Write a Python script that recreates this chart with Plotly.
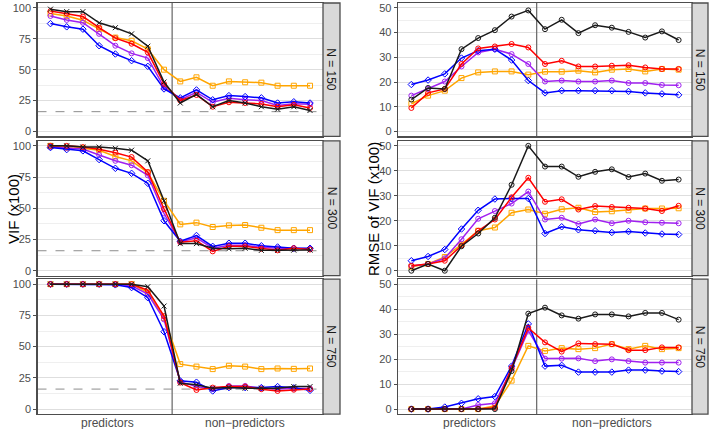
import plotly.graph_objects as go

W, H = 709, 429

positions = list(range(1, 18))  # 8 predictors + 9 non-predictors
separator_x = 8.5
group_labels = ["predictors", "non\u2212predictors"]
group_centers = [4.5, 13.0]
sample_sizes = ["N = 150", "N = 300", "N = 750"]
reference_vif = 16

# ---- VIF (x100), left column ----
vif150_black  = [99, 97, 97, 88, 84, 79, 69, 40, 23, 30, 20, 25, 23, 20, 18, 20, 17]
vif150_red    = [97.5, 95.5, 93, 84, 75.5, 71, 64, 38.5, 25, 29.5, 20, 23.6, 23, 22.3, 20, 21.5, 19]
vif150_orange = [95.5, 93.5, 90, 83, 76, 73.4, 66.6, 50, 40.5, 43.8, 37, 40.5, 39.8, 39.5, 37, 37, 37]
vif150_purple = [93.5, 90.3, 88, 79, 69.4, 63.2, 59.4, 35.7, 25.8, 31.7, 23.6, 26.9, 25.6, 25, 21, 22.5, 22]
vif150_blue   = [87.3, 84.7, 82.8, 69.4, 62.7, 57.3, 52.7, 34.4, 27.2, 33.6, 25.6, 29, 28.2, 27.2, 23, 24, 23]

vif300_black  = [100, 100, 99, 99, 98, 96.5, 88, 56, 21.7, 21.7, 18, 17.6, 18, 16.3, 16.3, 16.5, 16.5]
vif300_red    = [100, 100, 99, 97.3, 94.5, 91, 79, 49.4, 22.8, 24, 15.5, 19.5, 19.5, 17.6, 16.3, 18, 17]
vif300_orange = [100, 98.5, 98, 96.5, 91.5, 88, 78.6, 56, 37.1, 38.5, 35, 36.3, 36.6, 34.4, 32.5, 32.5, 32.5]
vif300_purple = [99, 98.4, 97.5, 92.7, 88, 84.5, 76.4, 45.8, 23, 26.3, 18, 20.4, 20.4, 18.7, 18, 18, 17.5]
vif300_blue   = [98.6, 97, 96, 89, 82, 78, 70, 40, 23.6, 28.2, 19.5, 22, 22, 20, 19, 18, 18]

vif750_black  = [100, 100, 100, 100, 100, 100, 98, 82.5, 20.7, 19.4, 16.7, 17.2, 16.7, 16.7, 16.7, 18, 18]
vif750_red    = [100, 100, 100, 100, 100, 100, 95.2, 74.4, 21.2, 15.3, 17.2, 18, 18, 15.9, 14.5, 15.5, 16]
vif750_orange = [100, 100, 100, 100, 100, 100, 93.3, 73, 36, 34, 32, 34.7, 34, 32, 32.5, 32.2, 32.5]
vif750_purple = [100, 100, 100, 100, 100, 98.7, 92, 71.8, 22, 18, 16, 18.5, 18.5, 16.7, 16, 16.5, 16.5]
vif750_blue   = [100, 100, 100, 100, 99.5, 97.3, 89.2, 61.9, 22.6, 21.5, 14.5, 17.2, 17.2, 17.2, 18, 17, 15]

# ---- RMSE of VIF (x100), right column ----
rmse150_black  = [12.9, 17.6, 17.2, 33.3, 37.8, 41, 46.5, 49, 41.4, 45.2, 39.8, 43, 42, 40.3, 38, 40.5, 37]
rmse150_red    = [9.5, 15.6, 17.2, 27.3, 33.6, 34.4, 35.4, 34, 27.3, 28.6, 26.3, 26.3, 26.6, 26.8, 25.9, 25.3, 25.3]
rmse150_orange = [11.2, 14.5, 16.5, 21.6, 23.9, 24.3, 24.3, 23, 24.2, 24.2, 24.6, 23.9, 25, 25.3, 24.3, 25.3, 25]
rmse150_purple = [14.5, 17.2, 20.2, 26.3, 32, 33.3, 31.3, 27.3, 20.2, 20.6, 20.2, 20.2, 20.6, 19.6, 19.6, 18.8, 18.7]
rmse150_blue   = [19, 20.8, 23.3, 29.7, 32.7, 33.3, 28.9, 20.6, 15.6, 16.5, 16.5, 16.5, 16.5, 16.2, 15.6, 15.2, 14.8]

rmse300_black  = [0, 2.7, 0, 9.8, 14.9, 21.2, 34.4, 50, 41.7, 41.7, 37.6, 39.6, 40.6, 37.5, 38.9, 36, 36.5]
rmse300_red    = [2, 2.7, 4, 10.1, 16, 20.5, 29.4, 37.2, 27.6, 28.6, 24.5, 25.9, 25.5, 25.2, 24.9, 23.9, 26]
rmse300_orange = [1.6, 2.7, 5.5, 10.5, 16, 17.3, 23.2, 24.5, 22.8, 24.6, 25.2, 23.5, 23.8, 24.2, 24.9, 24.9, 25]
rmse300_purple = [1.9, 2.7, 5, 12.6, 20.8, 23.9, 26.9, 31.7, 20.5, 21.2, 18.7, 20.5, 19, 20, 19.4, 19.2, 19]
rmse300_blue   = [4, 5.7, 8.5, 16.7, 24.2, 28.7, 28.9, 28.9, 14.9, 17.6, 16.4, 16, 15.3, 15.7, 15.1, 14.7, 14.5]

rmse750_black  = [0, 0, 0, 0, 0, 0, 15.2, 38.2, 40.6, 37.5, 36.2, 37.9, 37.9, 37.1, 38.5, 38.5, 35.8]
rmse750_red    = [0, 0, 0, 0, 0, 0.5, 16.5, 32.5, 26.7, 23, 26.3, 26, 26, 23.6, 23.6, 24.7, 24.7]
rmse750_orange = [0, 0, 0, 0, 0, 1.2, 11.4, 25.3, 23.3, 24.4, 24, 24.4, 26, 24, 25.3, 24, 24.4]
rmse750_purple = [0, 0, 0, 0, 1.6, 2.3, 16.1, 31.4, 20.2, 20.2, 20.3, 19.2, 19.9, 19.2, 18.6, 18.6, 18.6]
rmse750_blue   = [0, 0, 0.8, 2.3, 4.1, 5, 17.2, 34.1, 17.2, 17.5, 14.8, 14.8, 14.8, 15.6, 15.6, 15.2, 15]

series_colors = {"orange": "#FFA500", "purple": "#A020F0", "blue": "#0000FF",
                 "red": "#FF0000", "black": "#1A1A1A"}

left_panels = [
    {"orange": vif150_orange, "purple": vif150_purple, "blue": vif150_blue, "red": vif150_red, "black": vif150_black},
    {"orange": vif300_orange, "purple": vif300_purple, "blue": vif300_blue, "red": vif300_red, "black": vif300_black},
    {"orange": vif750_orange, "purple": vif750_purple, "blue": vif750_blue, "red": vif750_red, "black": vif750_black},
]
right_panels = [
    {"orange": rmse150_orange, "purple": rmse150_purple, "blue": rmse150_blue, "red": rmse150_red, "black": rmse150_black},
    {"orange": rmse300_orange, "purple": rmse300_purple, "blue": rmse300_blue, "red": rmse300_red, "black": rmse300_black},
    {"orange": rmse750_orange, "purple": rmse750_purple, "blue": rmse750_blue, "red": rmse750_red, "black": rmse750_black},
]

# ---- layout geometry (pixels) ----
rows_px = [(2, 136), (140.5, 276), (279.5, 415)]
left_px = (37.5, 323)
left_strip = (323, 340)
right_px = (398, 692)
right_strip = (692, 708)
x_range = [0.2, 17.8]

def fx(p):
    return p / W

def fy(p):
    return 1 - p / H

fig = go.Figure()
layout = dict(width=W, height=H, margin=dict(l=0, r=0, t=0, b=0),
              paper_bgcolor="white", plot_bgcolor="white", showlegend=False,
              font=dict(family="Liberation Sans, Arial, sans-serif"))
shapes = []
annotations = []

marker_syms = {"left": {"black": "x-thin-open"}, "right": {"black": "circle-open"}}
other_syms = {"orange": "square-open", "red": "circle-open", "purple": "circle-open", "blue": "diamond-open"}

idx = 0
for col, panels in (("left", left_panels), ("right", right_panels)):
    for r, pdata in enumerate(panels):
        idx += 1
        xa = "x" if idx == 1 else f"x{idx}"
        ya = "y" if idx == 1 else f"y{idx}"
        xkey = "xaxis" if idx == 1 else f"xaxis{idx}"
        ykey = "yaxis" if idx == 1 else f"yaxis{idx}"
        cpx = left_px if col == "left" else right_px
        spx = left_strip if col == "left" else right_strip
        top, bot = rows_px[r]

        if col == "left":
            yrange = [-4, 104]
            ytv = [0, 25, 50, 75, 100]
            minor_dt = 12.5
        else:
            yrange = [-2, 52]
            ytv = [0, 10, 20, 30, 40, 50]
            minor_dt = 5

        layout[xkey] = dict(domain=[fx(cpx[0]), fx(cpx[1])], anchor=ya, range=x_range,
                            showgrid=False, zeroline=False, showline=True, mirror=True,
                            linecolor="#4D4D4D", linewidth=1.3,
                            showticklabels=False, ticks="")
        layout[ykey] = dict(domain=[fy(bot), fy(top)], anchor=xa, range=yrange,
                            tickvals=ytv, showgrid=True, gridcolor="#DEDEDE", gridwidth=1,
                            minor=dict(showgrid=True, gridcolor="#EFEFEF", dtick=minor_dt, tick0=0),
                            zeroline=False, showline=True, mirror=True,
                            linecolor="#4D4D4D", linewidth=1.3,
                            ticks="outside", ticklen=3, tickcolor="#4D4D4D",
                            tickfont=dict(size=11, color="#4D4D4D"))

        # reference lines (drawn under the data)
        fig.add_trace(go.Scatter(x=[separator_x, separator_x], y=yrange, xaxis=xa, yaxis=ya,
                                 mode="lines", line=dict(color="#707070", width=1.3),
                                 hoverinfo="skip"))
        if col == "left":
            fig.add_trace(go.Scatter(x=x_range, y=[reference_vif, reference_vif], xaxis=xa, yaxis=ya,
                                     mode="lines", line=dict(color="#8C8C8C", width=1, dash="dash"),
                                     hoverinfo="skip"))

        for name in ["orange", "purple", "blue", "red", "black"]:
            sym = marker_syms[col].get(name, other_syms.get(name))
            fig.add_trace(go.Scatter(
                x=positions, y=pdata[name], xaxis=xa, yaxis=ya, mode="lines+markers",
                line=dict(color=series_colors[name], width=1.5),
                marker=dict(symbol=sym, size=5, color=series_colors[name],
                            line=dict(color=series_colors[name], width=1)),
                hoverinfo="skip"))

        # strip
        shapes.append(dict(type="rect", xref="paper", yref="paper",
                           x0=fx(spx[0]), x1=fx(spx[1]), y0=fy(bot), y1=fy(top),
                           fillcolor="#D9D9D9", line=dict(color="#4D4D4D", width=1.3)))
        annotations.append(dict(xref="paper", yref="paper", x=fx((spx[0] + spx[1]) / 2),
                                y=fy((top + bot) / 2), text=sample_sizes[r], showarrow=False,
                                xanchor="center", yanchor="middle",
                                textangle=90, font=dict(size=12, color="#1A1A1A")))

        if r == 2:
            for lab, cx in zip(group_labels, group_centers):
                annotations.append(dict(xref=xa, yref="paper", x=cx, y=fy(415), text=lab,
                                        showarrow=False, xanchor="center", yanchor="top",
                                        font=dict(size=12, color="#4D4D4D")))

annotations.append(dict(xref="paper", yref="paper", x=fx(13), y=fy(209), text="VIF (x100)",
                        showarrow=False, textangle=-90, xanchor="center", yanchor="middle",
                        font=dict(size=15, color="black")))
annotations.append(dict(xref="paper", yref="paper", x=fx(373), y=fy(209), text="RMSE of VIF (x100)",
                        showarrow=False, textangle=-90, xanchor="center", yanchor="middle",
                        font=dict(size=15, color="black")))

layout["shapes"] = shapes
layout["annotations"] = annotations
fig.update_layout(**layout)
fig.write_html("out.html", config={"displayModeBar": False, "staticPlot": True},
               post_script="document.body.style.margin='0';document.body.style.overflow='hidden';")
